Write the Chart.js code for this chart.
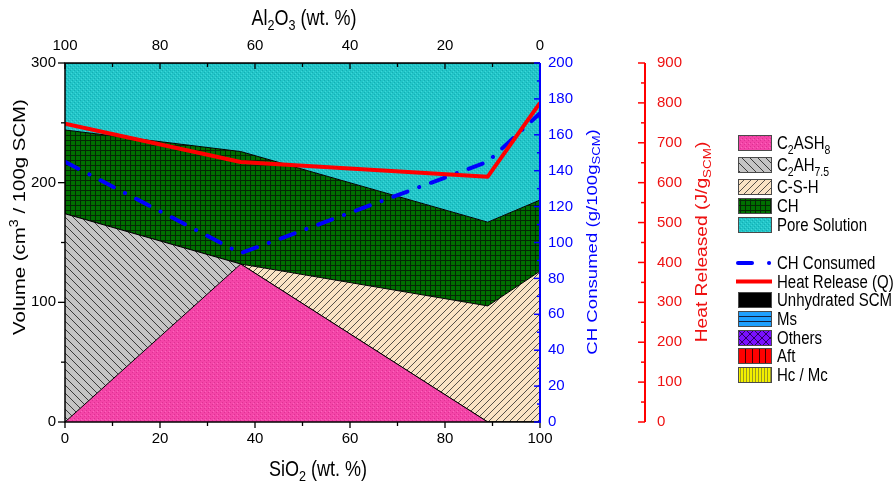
<!DOCTYPE html>
<html>
<head>
<meta charset="utf-8">
<script src="https://cdn.jsdelivr.net/npm/chart.js@4.4.1/dist/chart.umd.min.js"></script>
<style>
  html, body { margin: 0; padding: 0; background: #fff; }
  canvas { display: block; }
</style>
</head>
<body>
<canvas id="chart" width="896" height="485"></canvas>
<script>
// SiO2 content of the SCM (wt. %); Al2O3 = 100 - SiO2
const siO2 = [0, 37, 89, 100];

// Phase volumes (cm3 / 100 g SCM), stacked bottom to top
const c2ash8       = [0, 132, 0, 0];
const c2ah75       = [174, 0, 0, 0];
const csh          = [0, 0, 97, 126];
const ch           = [70, 94, 70, 59.5];
const poreSolution = [56, 74, 133, 114.5];

// CH consumed (g / 100 g SCM) and heat released (J / g SCM)
const chConsumed  = [145, 94, 145, 172];
const heatRelease = [748, 652, 615, 800];

// Axis ranges and tick steps
const volumeRange = [0, 300],  volumeStep = 100;
const chRange     = [0, 200],  chStep = 20;
const heatRange   = [0, 900],  heatStep = 100;
const pctRange    = [0, 100],  pctStep = 20;

const FONT = "'Liberation Sans', Arial, Helvetica, sans-serif";
const STRETCH = 1.2;   // text is drawn slightly tall

// ---------- fill patterns ----------
function tile(w, h, paint) {
  const c = document.createElement('canvas');
  c.width = w; c.height = h;
  const g = c.getContext('2d');
  paint(g, w, h);
  return g.createPattern(c, 'repeat');
}
const px = (g, x, y, col) => { g.fillStyle = col; g.fillRect(x, y, 1, 1); };

const patPink = tile(4, 4, (g, w, h) => {
  g.fillStyle = '#F445A8'; g.fillRect(0, 0, w, h);
  px(g, 0, 0, '#DE3193'); px(g, 2, 2, '#DE3193'); px(g, 1, 3, '#FA66BC');
});
const patGray = tile(8, 8, (g, w, h) => {
  g.fillStyle = '#C4C4C4'; g.fillRect(0, 0, w, h);
  for (let i = 0; i < 8; i++) px(g, i, i, '#3A3A3A');
});
const patWheat = tile(7, 7, (g, w, h) => {
  g.fillStyle = '#FAE3C4'; g.fillRect(0, 0, w, h);
  for (let i = 0; i < 7; i++) px(g, i, 6 - i, '#555048');
});
const patGreen = tile(5, 5, (g, w, h) => {
  g.fillStyle = '#007000'; g.fillRect(0, 0, w, h);
  g.fillStyle = '#052805'; g.fillRect(0, 0, w, 1); g.fillRect(0, 0, 1, h);
});
const patCyan = tile(4, 4, (g, w, h) => {
  g.fillStyle = '#22C5C8'; g.fillRect(0, 0, w, h);
  px(g, 0, 0, '#14AEB3'); px(g, 2, 2, '#14AEB3'); px(g, 1, 3, '#3ED6D8'); px(g, 3, 1, '#3ED6D8');
});

// ---------- stacked phase areas ----------
const phases = [
  { label: 'C2ASH8',        values: c2ash8,       fill: patPink  },
  { label: 'C2AH7.5',       values: c2ah75,       fill: patGray  },
  { label: 'C-S-H',         values: csh,          fill: patWheat },
  { label: 'CH',            values: ch,           fill: patGreen },
  { label: 'Pore Solution', values: poreSolution, fill: patCyan  }
];

let running = siO2.map(() => 0);
const areaSets = phases.map((p, i) => {
  running = running.map((r, j) => r + p.values[j]);
  return {
    type: 'line',
    label: p.label,
    data: siO2.map((x, j) => ({ x, y: running[j] })),
    yAxisID: 'y',
    fill: i === 0 ? 'origin' : '-1',
    backgroundColor: p.fill,
    borderColor: '#000',
    borderWidth: 1,
    pointRadius: 0,
    tension: 0,
    order: 2
  };
});

const lineSets = [
  {
    type: 'line',
    label: 'Heat Release (Q)',
    data: siO2.map((x, j) => ({ x, y: heatRelease[j] })),
    yAxisID: 'yQ',
    borderColor: '#FF0000',
    borderWidth: 4,
    borderJoinStyle: 'round',
    fill: false,
    pointRadius: 0,
    tension: 0,
    order: 0
  },
  {
    type: 'line',
    label: 'CH Consumed',
    data: siO2.map((x, j) => ({ x, y: chConsumed[j] })),
    yAxisID: 'yCH',
    borderColor: '#0000FF',
    borderWidth: 4,
    borderDash: [15, 12.5, 0.1, 12.5],
    borderCapStyle: 'round',
    borderJoinStyle: 'round',
    fill: false,
    pointRadius: 0,
    tension: 0,
    order: 1
  }
];

// ---------- text with sub/superscripts ----------
function partFont(size, mode) { return (mode ? size * 0.7 : size) + 'px ' + FONT; }
function richWidth(ctx, parts, size) {
  let w = 0;
  for (const [t, m] of parts) { ctx.font = partFont(size, m); w += ctx.measureText(t).width; }
  return w;
}
function drawRich(ctx, parts, x, y, o) {
  const size = o.size;
  ctx.save();
  ctx.translate(x, y);
  if (o.rotate) { ctx.rotate(-Math.PI / 2); ctx.scale(STRETCH, 1); }
  else ctx.scale(1, STRETCH);
  const w = richWidth(ctx, parts, size);
  let cx = o.align === 'left' ? 0 : -w / 2;
  const base = size * 0.36;
  ctx.fillStyle = o.color || '#000';
  ctx.textAlign = 'left';
  ctx.textBaseline = 'alphabetic';
  for (const [t, m] of parts) {
    ctx.font = partFont(size, m);
    const dy = m === 'sub' ? size * 0.24 : m === 'sup' ? -size * 0.42 : 0;
    ctx.fillText(t, cx, base + dy);
    cx += ctx.measureText(t).width;
  }
  ctx.restore();
}

// ---------- axis frame, tick marks and titles ----------
function eachTick(scale, step, majorStep, fn) {
  const lo = Math.min(scale.min, scale.max), hi = Math.max(scale.min, scale.max);
  for (let v = lo; v <= hi + 1e-9; v += step) {
    const r = v / majorStep;
    fn(scale.getPixelForValue(v), Math.abs(r - Math.round(r)) < 1e-6);
  }
}
function seg(ctx, x1, y1, x2, y2) { ctx.beginPath(); ctx.moveTo(x1, y1); ctx.lineTo(x2, y2); ctx.stroke(); }

const framePlugin = {
  id: 'frame',
  afterDatasetsDraw(chart) {
    const { ctx, chartArea: { left, right, top, bottom }, scales } = chart;
    ctx.save();
    ctx.lineCap = 'butt';
    ctx.strokeStyle = '#000';
    ctx.lineWidth = 1.5;
    ctx.beginPath();
    ctx.moveTo(right, top); ctx.lineTo(left, top); ctx.lineTo(left, bottom); ctx.lineTo(right, bottom);
    ctx.stroke();

    ctx.lineWidth = 1.3;
    eachTick(scales.x, pctStep / 2, pctStep, (p, M) => seg(ctx, p, bottom, p, bottom + (M ? 6 : 4)));
    eachTick(scales.x2, pctStep / 2, pctStep, (p, M) => seg(ctx, p, top, p, top + (M ? 6 : 4)));
    eachTick(scales.y, volumeStep / 2, volumeStep, (p, M) => seg(ctx, left, p, left - (M ? 7 : 4), p));

    ctx.strokeStyle = '#0000FF';
    ctx.lineWidth = 2;
    seg(ctx, right, top, right, bottom + 1);
    ctx.lineWidth = 1.5;
    eachTick(scales.yCH, chStep / 2, chStep, (p, M) => seg(ctx, right, p, right - (M ? 6 : 3), p));

    const rx = scales.yQ.left;
    ctx.strokeStyle = '#FF0000';
    ctx.lineWidth = 2;
    seg(ctx, rx, top, rx, bottom);
    ctx.lineWidth = 1.5;
    eachTick(scales.yQ, heatStep / 2, heatStep, (p, M) => seg(ctx, rx, p, rx - (M ? 7 : 4), p));
    ctx.restore();
  },
  afterDraw(chart) {
    const ctx = chart.ctx;
    drawRich(ctx, [['Al'], ['2', 'sub'], ['O'], ['3', 'sub'], [' (wt. %)']], 304, 17, { size: 18 });
    drawRich(ctx, [['SiO'], ['2', 'sub'], [' (wt. %)']], 318, 468, { size: 18 });
    drawRich(ctx, [['Volume (cm'], ['3', 'sup'], [' / 100g SCM)']], 19, 217, { size: 17, rotate: true });
    drawRich(ctx, [['CH Consumed (g/100g'], ['SCM', 'sub'], [')']], 591, 242, { size: 15.5, rotate: true, color: '#0000FF' });
    drawRich(ctx, [['Heat Released (J/g'], ['SCM', 'sub'], [')']], 701, 242, { size: 16, rotate: true, color: '#EE1111' });
    drawLegend(ctx);
  }
};

// ---------- legend ----------
const LX = 738, LW = 34, LH = 16, TX = 777;
function swatch(ctx, y, paint) {
  ctx.save();
  ctx.beginPath(); ctx.rect(LX, y, LW, LH); ctx.clip();
  paint(ctx, LX, y, LW, LH);
  ctx.restore();
  ctx.save();
  ctx.strokeStyle = '#4a4a4a'; ctx.lineWidth = 1;
  ctx.strokeRect(LX + 0.5, y + 0.5, LW - 1, LH - 1);
  ctx.restore();
}
const fillWith = (pat) => (c, x, y, w, h) => { c.fillStyle = pat; c.fillRect(x, y, w, h); };

const legendItems = [
  { parts: [['C'], ['2', 'sub'], ['ASH'], ['8', 'sub']], top: 135, paint: fillWith(patPink) },
  { parts: [['C'], ['2', 'sub'], ['AH'], ['7.5', 'sub']], top: 157, paint: fillWith(patGray) },
  { parts: [['C-S-H']], top: 179, paint: fillWith(patWheat) },
  { parts: [['CH']], top: 198, paint: fillWith(patGreen) },
  { parts: [['Pore Solution']], top: 217, paint: fillWith(patCyan) },
  { parts: [['CH Consumed']], line: 'dashdot', mid: 263 },
  { parts: [['Heat Release (Q)']], line: 'solid', mid: 281.5 },
  { parts: [['Unhydrated SCM']], top: 292, paint: (c, x, y, w, h) => { c.fillStyle = '#000'; c.fillRect(x, y, w, h); } },
  { parts: [['Ms']], top: 311, paint: (c, x, y, w, h) => {
      c.fillStyle = '#1EA0FF'; c.fillRect(x, y, w, h);
      c.strokeStyle = '#102040'; c.lineWidth = 1;
      seg(c, x, y + 5.5, x + w, y + 5.5); seg(c, x, y + 10.5, x + w, y + 10.5);
  } },
  { parts: [['Others']], top: 330, paint: (c, x, y, w, h) => {
      c.fillStyle = '#7A10FF'; c.fillRect(x, y, w, h);
      c.strokeStyle = '#2a0060'; c.lineWidth = 1;
      for (let k = -h; k < w + h; k += 8) { seg(c, x + k, y, x + k + h, y + h); seg(c, x + k + h, y, x + k, y + h); }
  } },
  { parts: [['Aft']], top: 348, paint: (c, x, y, w, h) => {
      c.fillStyle = '#FF0000'; c.fillRect(x, y, w, h);
      c.strokeStyle = '#400000'; c.lineWidth = 1;
      for (let k = 7; k < w; k += 6.8) seg(c, x + Math.round(k) + 0.5, y, x + Math.round(k) + 0.5, y + h);
  } },
  { parts: [['Hc / Mc']], top: 367, paint: (c, x, y, w, h) => {
      c.fillStyle = '#F2F000'; c.fillRect(x, y, w, h);
      c.strokeStyle = '#9a9a20'; c.lineWidth = 1;
      for (let k = 2; k < w; k += 3) seg(c, x + k + 0.5, y, x + k + 0.5, y + h);
  } }
];

function drawLegend(ctx) {
  for (const it of legendItems) {
    let mid;
    if (it.line) {
      mid = it.mid;
      ctx.save();
      ctx.lineWidth = 4;
      if (it.line === 'dashdot') {
        ctx.strokeStyle = '#0000FF';
        ctx.lineCap = 'round';
        seg(ctx, LX, mid, LX + 14, mid);
        seg(ctx, LX + 31, mid, LX + 31.1, mid);
      } else {
        ctx.strokeStyle = '#FF0000';
        ctx.lineCap = 'butt';
        seg(ctx, LX - 2, mid, LX + LW, mid);
      }
      ctx.restore();
    } else {
      swatch(ctx, it.top, it.paint);
      mid = it.top + LH / 2;
    }
    drawRich(ctx, it.parts, TX, mid, { size: 15, align: 'left' });
  }
}

// ---------- chart ----------
const tickFont = { family: FONT, size: 15 };
new Chart(document.getElementById('chart'), {
  type: 'line',
  data: { datasets: [...areaSets, ...lineSets] },
  options: {
    responsive: false,
    animation: false,
    devicePixelRatio: 1,
    layout: { padding: { left: 0, right: 171, top: 0, bottom: 0 } },
    plugins: { legend: { display: false }, tooltip: { enabled: false } },
    elements: { point: { radius: 0 } },
    scales: {
      x: {
        type: 'linear', position: 'bottom', min: pctRange[0], max: pctRange[1],
        ticks: { stepSize: pctStep, padding: 8, font: tickFont, color: '#000', maxRotation: 0 },
        grid: { display: false, drawTicks: false }, border: { display: false },
        afterFit: s => { s.height = 63; }
      },
      x2: {
        type: 'linear', position: 'top', min: pctRange[0], max: pctRange[1], reverse: true,
        ticks: { stepSize: pctStep, padding: 8, font: tickFont, color: '#000', maxRotation: 0 },
        grid: { display: false, drawTicks: false }, border: { display: false },
        afterFit: s => { s.height = 63; }
      },
      y: {
        type: 'linear', position: 'left', min: volumeRange[0], max: volumeRange[1],
        ticks: { stepSize: volumeStep, padding: 9, font: tickFont, color: '#000' },
        grid: { display: false, drawTicks: false }, border: { display: false },
        afterFit: s => { s.width = 65; }
      },
      yCH: {
        type: 'linear', position: 'right', weight: 1, min: chRange[0], max: chRange[1],
        ticks: { stepSize: chStep, padding: 8, font: tickFont, color: '#0000FF' },
        grid: { display: false, drawTicks: false }, border: { display: false },
        afterFit: s => { s.width = 105; }
      },
      yQ: {
        type: 'linear', position: 'right', weight: 2, min: heatRange[0], max: heatRange[1],
        ticks: { stepSize: heatStep, padding: 12, font: tickFont, color: '#EE1111' },
        grid: { display: false, drawTicks: false }, border: { display: false },
        afterFit: s => { s.width = 80; }
      }
    }
  },
  plugins: [framePlugin]
});
</script>
</body>
</html>
